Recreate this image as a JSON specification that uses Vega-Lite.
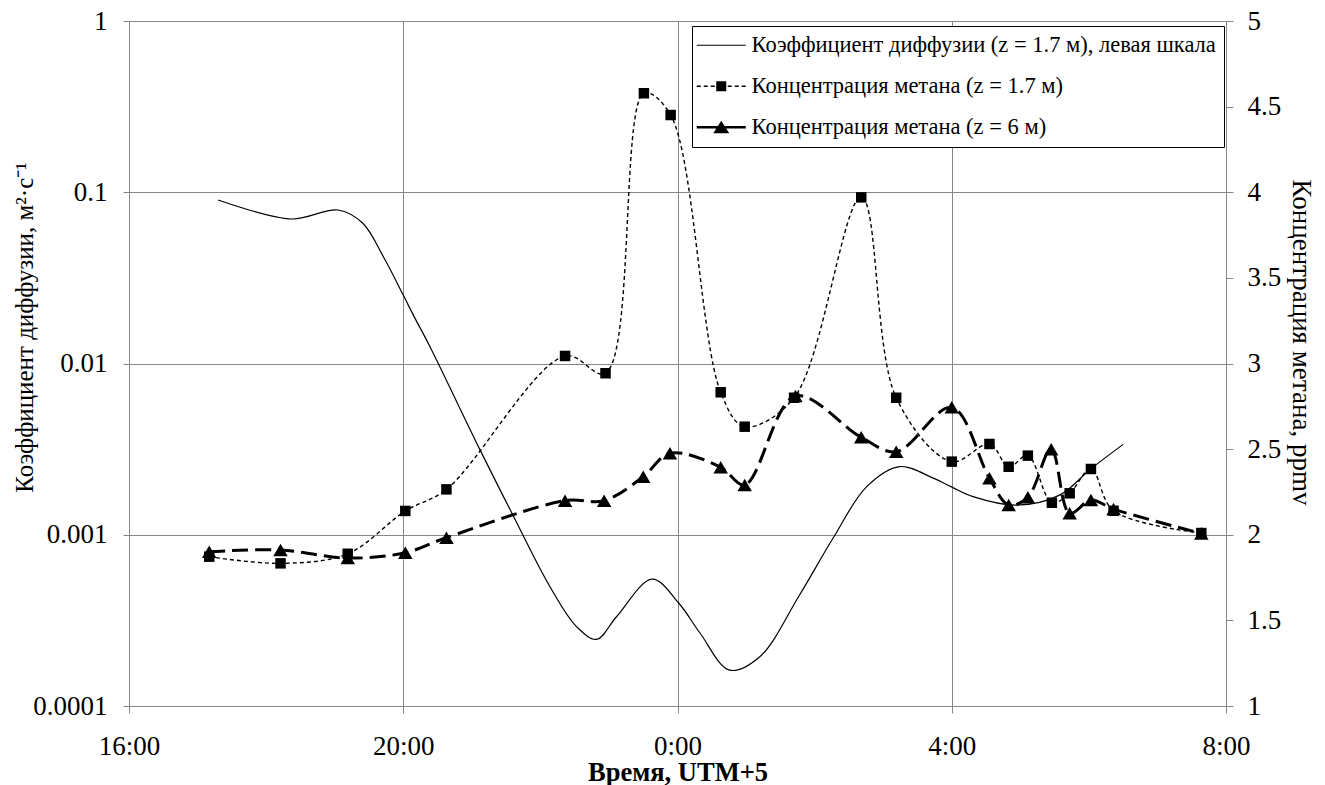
{
  "$schema": "https://vega.github.io/schema/vega-lite/v6.json",
  "width": 1097,
  "height": 685,
  "autosize": {"type": "none"},
  "padding": {"left": 129, "top": 21, "right": 99, "bottom": 79},
  "background": "white",
  "config": {
    "view": {"stroke": null},
    "font": "Liberation Serif",
    "axis": {
      "labelFont": "Liberation Serif",
      "titleFont": "Liberation Serif",
      "labelColor": "black",
      "titleColor": "black",
      "gridColor": "#868686",
      "gridOpacity": 1,
      "gridWidth": 1,
      "domainColor": "#868686",
      "domainWidth": 1,
      "tickColor": "#868686",
      "tickWidth": 1,
      "labelFontSize": 27,
      "labelFlush": false,
      "titleFontWeight": "normal",
      "titleFontSize": 25
    }
  },
  "datasets": {
    "k": [
      {"t": 17.30, "k": 0.0901},
      {"t": 18.37, "k": 0.0698},
      {"t": 19.05, "k": 0.0788},
      {"t": 19.41, "k": 0.0659},
      {"t": 19.71, "k": 0.0420},
      {"t": 20.00, "k": 0.0251},
      {"t": 20.17, "k": 0.0184},
      {"t": 20.39, "k": 0.01254},
      {"t": 21.12, "k": 0.00313},
      {"t": 21.60, "k": 0.00130},
      {"t": 22.14, "k": 0.000497},
      {"t": 22.53, "k": 0.000290},
      {"t": 22.82, "k": 0.000245},
      {"t": 23.11, "k": 0.000332},
      {"t": 23.63, "k": 0.000550},
      {"t": 24.02, "k": 0.000398},
      {"t": 24.33, "k": 0.000266},
      {"t": 24.76, "k": 0.000162},
      {"t": 25.20, "k": 0.000194},
      {"t": 25.78, "k": 0.000445},
      {"t": 26.27, "k": 0.000957},
      {"t": 26.76, "k": 0.00191},
      {"t": 27.24, "k": 0.00250},
      {"t": 27.73, "k": 0.00214},
      {"t": 28.01, "k": 0.00189},
      {"t": 28.31, "k": 0.00167},
      {"t": 28.95, "k": 0.00149},
      {"t": 29.58, "k": 0.00171},
      {"t": 30.01, "k": 0.00239},
      {"t": 30.50, "k": 0.00337}
    ],
    "ch4": [
      {"t": 17.17, "c": 1.872, "series": "Концентрация метана (z = 1.7 м)"},
      {"t": 18.21, "c": 1.833, "series": "Концентрация метана (z = 1.7 м)"},
      {"t": 19.19, "c": 1.889, "series": "Концентрация метана (z = 1.7 м)"},
      {"t": 20.03, "c": 2.139, "series": "Концентрация метана (z = 1.7 м)"},
      {"t": 20.63, "c": 2.265, "series": "Концентрация метана (z = 1.7 м)"},
      {"t": 22.36, "c": 3.044, "series": "Концентрация метана (z = 1.7 м)"},
      {"t": 22.95, "c": 2.943, "series": "Концентрация метана (z = 1.7 м)"},
      {"t": 23.51, "c": 4.578, "series": "Концентрация метана (z = 1.7 м)"},
      {"t": 23.90, "c": 4.451, "series": "Концентрация метана (z = 1.7 м)"},
      {"t": 24.63, "c": 2.832, "series": "Концентрация метана (z = 1.7 м)"},
      {"t": 24.98, "c": 2.631, "series": "Концентрация метана (z = 1.7 м)"},
      {"t": 25.70, "c": 2.800, "series": "Концентрация метана (z = 1.7 м)"},
      {"t": 26.68, "c": 3.970, "series": "Концентрация метана (z = 1.7 м)"},
      {"t": 27.19, "c": 2.800, "series": "Концентрация метана (z = 1.7 м)"},
      {"t": 28.00, "c": 2.427, "series": "Концентрация метана (z = 1.7 м)"},
      {"t": 28.55, "c": 2.530, "series": "Концентрация метана (z = 1.7 м)"},
      {"t": 28.83, "c": 2.397, "series": "Концентрация метана (z = 1.7 м)"},
      {"t": 29.11, "c": 2.462, "series": "Концентрация метана (z = 1.7 м)"},
      {"t": 29.46, "c": 2.187, "series": "Концентрация метана (z = 1.7 м)"},
      {"t": 29.72, "c": 2.242, "series": "Концентрация метана (z = 1.7 м)"},
      {"t": 30.03, "c": 2.384, "series": "Концентрация метана (z = 1.7 м)"},
      {"t": 30.36, "c": 2.140, "series": "Концентрация метана (z = 1.7 м)"},
      {"t": 31.64, "c": 2.010, "series": "Концентрация метана (z = 1.7 м)"},
      {"t": 17.17, "c": 1.901, "series": "Концентрация метана (z = 6 м)"},
      {"t": 18.21, "c": 1.911, "series": "Концентрация метана (z = 6 м)"},
      {"t": 19.19, "c": 1.864, "series": "Концентрация метана (z = 6 м)"},
      {"t": 20.03, "c": 1.895, "series": "Концентрация метана (z = 6 м)"},
      {"t": 20.63, "c": 1.983, "series": "Концентрация метана (z = 6 м)"},
      {"t": 22.36, "c": 2.199, "series": "Концентрация метана (z = 6 м)"},
      {"t": 22.93, "c": 2.199, "series": "Концентрация метана (z = 6 м)"},
      {"t": 23.50, "c": 2.339, "series": "Концентрация метана (z = 6 м)"},
      {"t": 23.89, "c": 2.476, "series": "Концентрация метана (z = 6 м)"},
      {"t": 24.63, "c": 2.394, "series": "Концентрация метана (z = 6 м)"},
      {"t": 24.98, "c": 2.291, "series": "Концентрация метана (z = 6 м)"},
      {"t": 25.72, "c": 2.810, "series": "Концентрация метана (z = 6 м)"},
      {"t": 26.68, "c": 2.569, "series": "Концентрация метана (z = 6 м)"},
      {"t": 27.19, "c": 2.485, "series": "Концентрация метана (z = 6 м)"},
      {"t": 28.00, "c": 2.744, "series": "Концентрация метана (z = 6 м)"},
      {"t": 28.55, "c": 2.330, "series": "Концентрация метана (z = 6 м)"},
      {"t": 28.83, "c": 2.174, "series": "Концентрация метана (z = 6 м)"},
      {"t": 29.11, "c": 2.219, "series": "Концентрация метана (z = 6 м)"},
      {"t": 29.45, "c": 2.499, "series": "Концентрация метана (z = 6 м)"},
      {"t": 29.72, "c": 2.125, "series": "Концентрация метана (z = 6 м)"},
      {"t": 30.03, "c": 2.203, "series": "Концентрация метана (z = 6 м)"},
      {"t": 30.36, "c": 2.150, "series": "Концентрация метана (z = 6 м)"},
      {"t": 31.64, "c": 2.008, "series": "Концентрация метана (z = 6 м)"}
    ]
  },
  "layer": [
    {
      "data": {"name": "k"},
      "mark": {"type": "line", "interpolate": "catmull-rom", "color": "black", "strokeWidth": 1.2},
      "encoding": {
        "x": {
          "field": "t", "type": "quantitative",
          "scale": {"domain": [16, 32], "nice": false, "zero": false},
          "axis": {
            "values": [16, 20, 24, 28, 32],
            "labelExpr": "(datum.value % 24) + ':00'",
            "grid": true,
            "tickSize": 7,
            "labelPadding": 20,
            "title": "Время, UTM+5",
            "titleFontWeight": "bold",
            "titleFontSize": 26.5,
            "titleBaseline": "alphabetic",
            "titleY": 74
          }
        },
        "y": {
          "field": "k", "type": "quantitative",
          "scale": {"type": "log", "domain": [0.0001, 1], "nice": false},
          "axis": {
            "orient": "left",
            "values": [0.0001, 0.001, 0.01, 0.1, 1],
            "format": "~g",
            "grid": true,
            "tickSize": 6,
            "labelPadding": 16,
            "title": "Коэффициент диффузии, м²·с⁻¹",
            "titleX": -105,
            "titleY": 306,
            "titleAngle": -90,
            "titleAlign": "center",
            "titleBaseline": "middle"
          }
        }
      }
    },
    {
      "data": {"name": "ch4"},
      "layer": [
        {
          "mark": {"type": "line", "interpolate": "catmull-rom", "color": "black"},
          "encoding": {
            "x": {"field": "t", "type": "quantitative"},
            "y": {
              "field": "c", "type": "quantitative",
              "scale": {"domain": [1, 5], "nice": false, "zero": false},
              "axis": {
                "orient": "right",
                "values": [1, 1.5, 2, 2.5, 3, 3.5, 4, 4.5, 5],
                "format": "~g",
                "grid": false,
                "tickSize": 7,
                "labelPadding": 14,
                "title": "Концентрация метана, ppmv",
                "titleFontSize": 27,
                "titleX": 74,
                "titleY": 321,
                "titleAngle": 90,
                "titleAlign": "center",
                "titleBaseline": "middle"
              }
            },
            "strokeDash": {
              "field": "series", "type": "nominal",
              "scale": {"domain": ["Концентрация метана (z = 1.7 м)", "Концентрация метана (z = 6 м)"], "range": [[4, 3], [16, 7]]},
              "legend": null
            },
            "strokeWidth": {
              "field": "series", "type": "ordinal",
              "scale": {"domain": ["Концентрация метана (z = 1.7 м)", "Концентрация метана (z = 6 м)"], "range": [1.4, 3]},
              "legend": null
            }
          }
        },
        {
          "mark": {"type": "point", "filled": true, "color": "black", "opacity": 1},
          "encoding": {
            "x": {"field": "t", "type": "quantitative"},
            "y": {"field": "c", "type": "quantitative"},
            "shape": {
              "field": "series", "type": "nominal",
              "scale": {"domain": ["Концентрация метана (z = 1.7 м)", "Концентрация метана (z = 6 м)"], "range": ["square", "triangle-up"]},
              "legend": null
            },
            "size": {
              "field": "series", "type": "ordinal",
              "scale": {"domain": ["Концентрация метана (z = 1.7 м)", "Концентрация метана (z = 6 м)"], "range": [110, 210]},
              "legend": null
            }
          }
        }
      ]
    },
    {
      "data": {"values": []},
      "mark": {"type": "point", "filled": true, "color": "black", "opacity": 1, "strokeWidth": 0},
      "encoding": {
        "shape": {
          "field": "entry", "type": "nominal",
          "scale": {
            "domain": ["Коэффициент диффузии (z = 1.7 м), левая шкала", "Концентрация метана (z = 1.7 м)", "Концентрация метана (z = 6 м)"],
            "range": [
              "M-2.45,-0.06H2.45V0.06H-2.45Z",
              "M-2.45,-0.065H-2.05V0.065H-2.45ZM-1.75,-0.065H-1.35V0.065H-1.75ZM-1.05,-0.065H-0.65V0.065H-1.05ZM-0.5,-0.5H0.5V0.5H-0.5ZM0.65,-0.065H1.05V0.065H0.65ZM1.35,-0.065H1.75V0.065H1.35ZM2.05,-0.065H2.45V0.065H2.05Z",
              "M-2.45,-0.13H2.45V0.13H-2.45ZM0,-0.65L0.8,0.6H-0.8Z"
            ]
          },
          "legend": {
            "title": null,
            "orient": "none",
            "legendX": 563,
            "legendY": 5,
            "strokeColor": "black",
            "fillColor": "white",
            "padding": 8,
            "symbolSize": 400,
            "symbolOffset": 10,
            "symbolFillColor": "black",
            "symbolStrokeWidth": 0,
            "labelOffset": 19,
            "labelFont": "Liberation Serif",
            "labelFontSize": 22.5,
            "labelColor": "black",
            "labelLimit": 700,
            "rowPadding": 18
          }
        }
      }
    }
  ],
  "resolve": {"scale": {"y": "independent", "shape": "independent"}}
}
